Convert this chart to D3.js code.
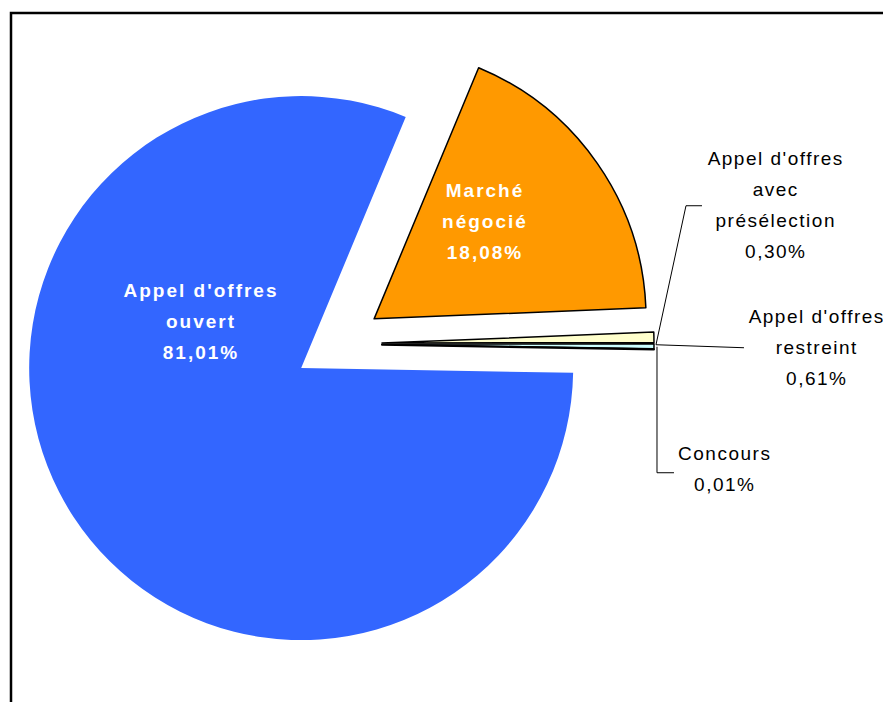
<!DOCTYPE html>
<html>
<head>
<meta charset="utf-8">
<script src="https://cdn.jsdelivr.net/npm/d3@7"></script>
<style>
  body { margin: 0; background: #fff; }
  text { font-family: "Liberation Sans", Arial, sans-serif; }
</style>
</head>
<body>
<div id="chart"></div>
<script>
// slices, clockwise from the start angle
var categories = ["Marché négocié", "Appel d'offres restreint", "Appel d'offres avec présélection", "Concours", "Appel d'offres ouvert"];
var values = [18.08, 0.61, 0.30, 0.01, 81.01];
var valueLabels = ["18,08%", "0,61%", "0,30%", "0,01%", "81,01%"];
var labelLines = [
  ["Marché", "négocié"],
  ["Appel d'offres", "restreint"],
  ["Appel d'offres", "avec", "présélection"],
  ["Concours"],
  ["Appel d'offres", "ouvert"]
];
var colors = ["#FF9900", "#FFFFCC", "#CCFFFF", "#1a1a1a", "#3366FF"];

var width = 883, height = 702;
var cx = 338, cy = 344, radius = 272, explode = 44;

var svg = d3.select("#chart")
  .append("svg")
  .attr("width", width)
  .attr("height", height);

// chart frame
svg.append("rect")
  .attr("x", 11)
  .attr("y", 13)
  .attr("width", 900)
  .attr("height", 720)
  .attr("fill", "#fff")
  .attr("stroke", "#000")
  .attr("stroke-width", 2.5);

var pie = d3.pie()
  .sort(null)
  .startAngle(22.6 * Math.PI / 180)
  .endAngle(22.6 * Math.PI / 180 + 2 * Math.PI);

var arcs = pie(values);

var arc = d3.arc()
  .innerRadius(0)
  .outerRadius(radius);

function offset(d) {
  var a = (d.startAngle + d.endAngle) / 2;
  return [Math.sin(a) * explode, -Math.cos(a) * explode];
}

var g = svg.append("g")
  .attr("transform", "translate(" + cx + "," + cy + ")");

g.selectAll("path")
  .data(arcs)
  .enter()
  .append("path")
  .attr("transform", function (d) {
    var o = offset(d);
    return "translate(" + o[0] + "," + o[1] + ")";
  })
  .attr("d", arc)
  .attr("fill", function (d, i) { return colors[i]; })
  .attr("stroke", function (d, i) { return i == 4 ? "none" : "#000"; })
  .attr("stroke-width", function (d, i) { return i == 3 ? 2 : 1.5; })
  .attr("stroke-linejoin", "round");

// label anchors (first line baseline), relative to pie center
var labelPos = [
  { x: 146, y: -147, inside: true },
  { x: 478, y: -21, inside: false },
  { x: 437, y: -179, inside: false },
  { x: 386, y: 116, inside: false },
  { x: -138, y: -47, inside: true }
];

labelPos.forEach(function (p, i) {
  var lines = labelLines[i].concat([valueLabels[i]]);
  var sp = p.inside ? 2 : 1.5;
  var t = g.append("text")
    .attr("text-anchor", "middle")
    .attr("font-size", "19px")
    .attr("letter-spacing", sp + "px")
    .attr("font-weight", p.inside ? "bold" : "normal")
    .attr("fill", p.inside ? "#fff" : "#000");
  lines.forEach(function (s, j) {
    t.append("tspan")
      .attr("x", p.x + sp / 2)
      .attr("y", p.y + j * 31)
      .text(s);
  });
});

// leader lines from the tip of the thin slices
var tip = arcs[2];
var to = offset(tip);
var a0 = tip.startAngle;
var tx = Math.sin(a0) * radius + to[0] + 2, ty = -Math.cos(a0) * radius + to[1] + 1;
var leaders = [
  [[tx, ty], [tx + 88, ty + 3]],
  [[tx, ty], [tx + 30, ty - 139], [tx + 46, ty - 139]],
  [[tx + 1, ty + 2], [tx + 1, ty + 128], [tx + 18, ty + 128]]
];
var line = d3.line();
g.selectAll(".leader")
  .data(leaders)
  .enter()
  .append("path")
  .attr("class", "leader")
  .attr("d", line)
  .attr("fill", "none")
  .attr("stroke", "#000")
  .attr("stroke-width", 1);
</script>
</body>
</html>
